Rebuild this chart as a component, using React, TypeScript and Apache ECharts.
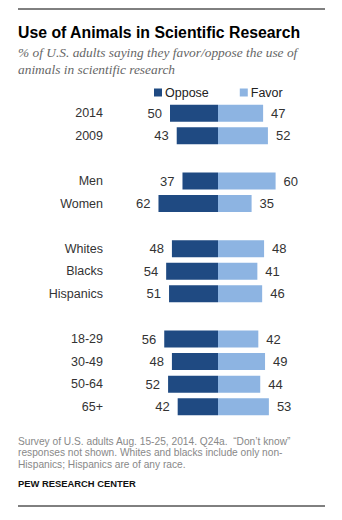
import React, { useEffect, useRef } from "react";
import * as echarts from "echarts";

const categories = ["2014", "2009", " ", "Men", "Women", "  ", "Whites", "Blacks", "Hispanics", "   ", "18-29", "30-49", "50-64", "65+"];
const opposeValues: (number | null)[] = [50, 43, null, 37, 62, null, 48, 54, 51, null, 56, 48, 52, 42];
const favorValues: (number | null)[] = [47, 52, null, 60, 35, null, 48, 41, 46, null, 42, 49, 44, 53];

const title = "Use of Animals in Scientific Research";
const subtitleLines = ["% of U.S. adults saying they favor/oppose the use of", "animals in scientific research"];
const noteLines = [
  "Survey of U.S. adults Aug. 15-25, 2014. Q24a.  \u201cDon\u2019t know\u201d",
  "responses not shown. Whites and blacks include only non-",
  "Hispanics; Hispanics are of any race.",
];
const source = "PEW RESEARCH CENTER";

const DARK = "#1f4a82";
const LIGHT = "#8db4e2";
const SANS = "'Liberation Sans', Arial, sans-serif";

export default function App() {
  const ref = useRef<HTMLDivElement>(null);
  useEffect(() => {
    document.body.style.margin = "0";
    const chart = echarts.init(ref.current!, null, { renderer: "svg" });
    chart.setOption({
      animation: false,
      backgroundColor: "#ffffff",
      textStyle: { fontFamily: SANS },
      legend: {
        left: 154,
        top: 86,
        padding: 0,
        itemWidth: 8,
        itemHeight: 8,
        itemGap: 31,
        icon: "rect",
        textStyle: { fontSize: 12.5, color: "#222", fontFamily: SANS, padding: [0, 0, 0, -2] },
        data: ["Oppose", "Favor"],
      },
      grid: { left: 122, right: 28, top: 102, height: 316 },
      xAxis: {
        type: "value",
        min: -100,
        max: 100,
        show: false,
      },
      yAxis: {
        type: "category",
        inverse: true,
        data: categories,
        axisLine: { show: false },
        axisTick: { show: false },
        axisLabel: { margin: 19, fontSize: 12.5, color: "#333", fontFamily: SANS },
      },
      series: [
        {
          name: "Oppose",
          type: "bar",
          stack: "total",
          barWidth: 17,
          itemStyle: { color: DARK },
          data: opposeValues.map((v) => (v == null ? null : -v)),
          label: {
            show: true,
            position: "left",
            distance: 8,
            fontSize: 13,
            color: "#333",
            fontFamily: SANS,
            formatter: (p: any) => String(Math.abs(p.value)),
          },
        },
        {
          name: "Favor",
          type: "bar",
          stack: "total",
          barWidth: 17,
          itemStyle: { color: LIGHT },
          data: favorValues,
          label: {
            show: true,
            position: "right",
            distance: 8,
            fontSize: 13,
            color: "#333",
            fontFamily: SANS,
          },
        },
      ],
      graphic: [
        { type: "line", shape: { x1: 18, y1: 9, x2: 325, y2: 9 }, style: { stroke: "#000", lineWidth: 1 } },
        {
          type: "text",
          x: 18,
          y: 23,
          scaleX: 0.93,
          style: { text: title, font: `bold 17px ${SANS}`, fill: "#000" },
        },
        ...subtitleLines.map((t, i) => ({
          type: "text",
          left: 18,
          top: 46 + i * 17,
          style: { text: t, font: `italic 13.4px 'Liberation Serif', 'DejaVu Serif', serif`, fill: "#666" },
        })),
        ...noteLines.map((t, i) => ({
          type: "text",
          left: 18,
          top: 436 + i * 11.7,
          style: { text: t, font: `10.2px ${SANS}`, fill: "#888" },
        })),
        {
          type: "text",
          left: 18,
          top: 479,
          style: { text: source, font: `bold 9.4px ${SANS}`, fill: "#111" },
        },
        { type: "line", shape: { x1: 18, y1: 506, x2: 325, y2: 506 }, style: { stroke: "#000", lineWidth: 1 } },
      ],
    });
    return () => chart.dispose();
  }, []);
  return <div ref={ref} style={{ width: 342, height: 520 }} />;
}
